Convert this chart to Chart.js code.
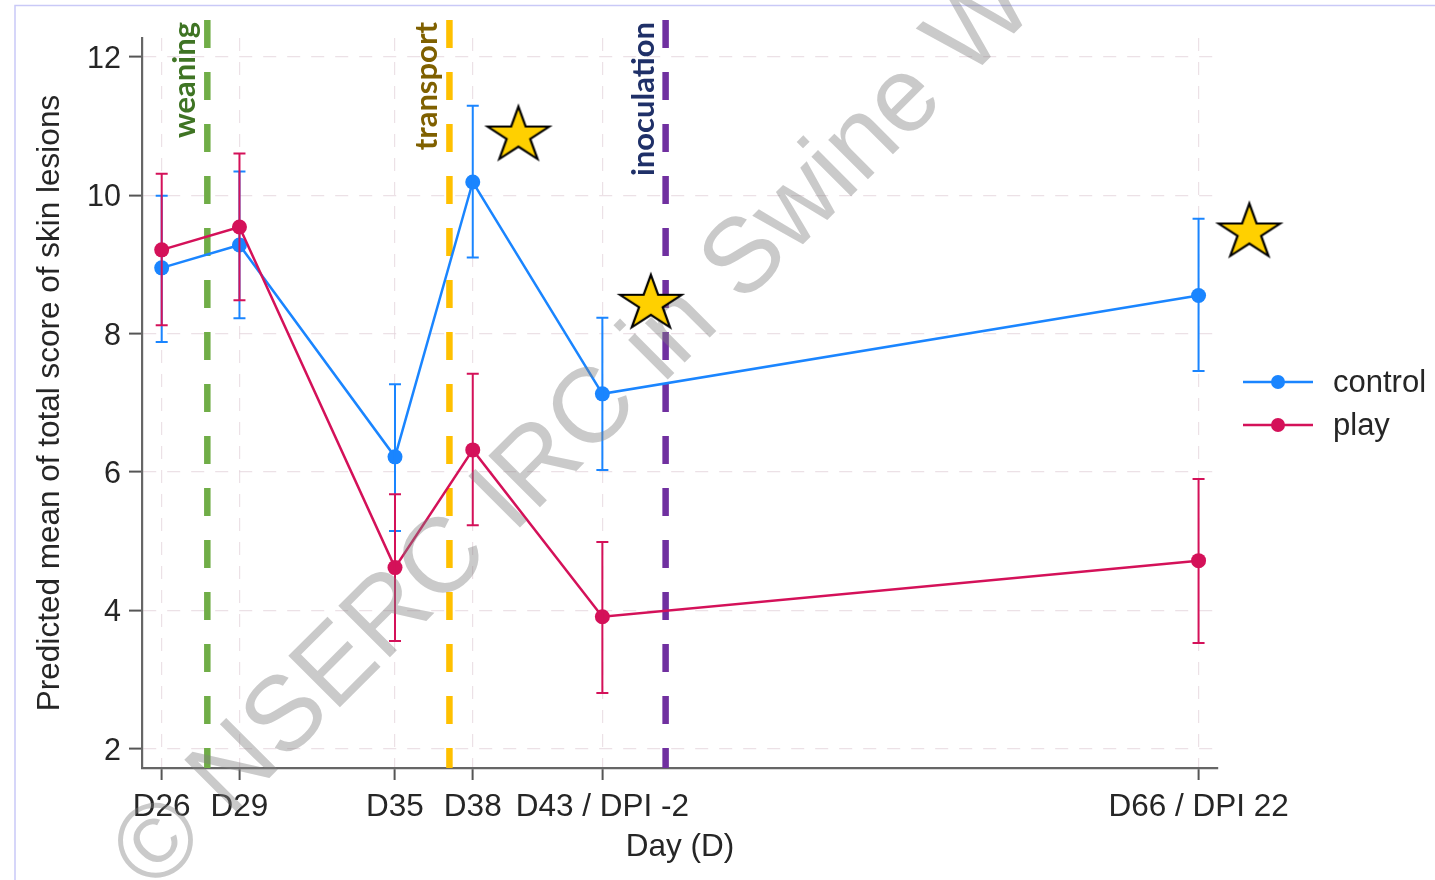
<!DOCTYPE html>
<html>
<head>
<meta charset="utf-8">
<script src="https://cdn.jsdelivr.net/npm/chart.js@4.4.0/dist/chart.umd.min.js"></script>
<style>
  html, body { margin: 0; padding: 0; background: #fff; }
  #wrap { position: relative; width: 1435px; height: 880px; }
</style>
</head>
<body>
<div id="wrap"><canvas id="lesionChart" width="1435" height="880"></canvas></div>
<script>
// x positions are days of age
const days = [26, 29, 35, 38, 43, 66];
const dayLabels = ['D26', 'D29', 'D35', 'D38', 'D43 / DPI -2', 'D66 / DPI 22'];

const controlMean = [8.95, 9.28, 6.22, 10.19, 7.13, 8.55];
const controlLow  = [7.88, 8.22, 5.15, 9.10, 6.03, 7.46];
const controlHigh = [9.99, 10.34, 7.27, 11.29, 8.23, 9.66];

const playMean = [9.21, 9.54, 4.62, 6.32, 3.91, 4.72];
const playLow  = [8.12, 8.48, 3.56, 5.23, 2.81, 3.53];
const playHigh = [10.31, 10.60, 5.68, 7.42, 4.99, 5.90];

const eventDays = [27.76, 37.1, 45.44];
const eventNames = ['weaning', 'transport', 'inoculation'];

const starDays = [39.76, 44.87, 67.96];
const starValues = [10.89, 8.46, 9.49];

const yTicks = [2, 4, 6, 8, 10, 12];

const X_MIN = 25.24, X_MAX = 66.75;
const Y_MIN = 1.725, Y_MAX = 12.27;
const EVENT_TOP = 12.53;

const BLUE = '#1A85FF';
const PINK = '#D41159';
const eventColors = ['#70AD47', '#FFC000', '#7030A0'];
const eventTextColors = ['#3F7424', '#7F6000', '#1F3068'];
const TEXT = '#262626';
const FONT = "'Liberation Sans', Arial, sans-serif";

function pts(ys) {
  return days.map((d, i) => ({ x: d, y: ys[i] }));
}

// star marker image
function makeStar() {
  const c = document.createElement('canvas');
  c.width = 74; c.height = 64;
  const g = c.getContext('2d');
  const R = 29, r = R * 0.382;
  g.translate(37, 34);
  g.scale(1.12, 1);
  g.beginPath();
  for (let i = 0; i < 10; i++) {
    const rad = i % 2 === 0 ? R : r;
    const a = -Math.PI / 2 + i * Math.PI / 5;
    const px = rad * Math.cos(a), py = rad * Math.sin(a);
    if (i === 0) g.moveTo(px, py); else g.lineTo(px, py);
  }
  g.closePath();
  g.fillStyle = '#FFD000';
  g.fill();
  g.lineWidth = 2;
  g.lineJoin = 'miter';
  g.strokeStyle = '#000';
  g.stroke();
  return c;
}
const starImg = makeStar();

const datasets = [];
eventDays.forEach((d, i) => {
  datasets.push({
    label: eventNames[i],
    data: [{ x: d, y: EVENT_TOP }, { x: d, y: Y_MIN }],
    borderColor: eventColors[i],
    borderWidth: 6.5,
    borderDash: [28, 24],
    pointRadius: 0,
    clip: false,
    order: 10
  });
});
datasets.push({
  label: 'control',
  data: pts(controlMean),
  errLow: controlLow,
  errHigh: controlHigh,
  borderColor: BLUE,
  backgroundColor: BLUE,
  borderWidth: 2.5,
  pointRadius: 7.5,
  pointBorderWidth: 0,
  pointBackgroundColor: BLUE,
  order: 2
});
datasets.push({
  label: 'play',
  data: pts(playMean),
  errLow: playLow,
  errHigh: playHigh,
  borderColor: PINK,
  backgroundColor: PINK,
  borderWidth: 2.5,
  pointRadius: 7.5,
  pointBorderWidth: 0,
  pointBackgroundColor: PINK,
  order: 1
});
datasets.push({
  label: 'significance',
  data: starDays.map((d, i) => ({ x: d, y: starValues[i] })),
  showLine: false,
  pointRadius: 0,
  clip: false,
  order: 0,
  isStar: true
});

const errorBars = {
  id: 'errorBars',
  afterDatasetDraw(chart, args) {
    const ds = chart.data.datasets[args.index];
    if (!ds.errLow) return;
    const ctx = chart.ctx;
    const xs = chart.scales.x, ys = chart.scales.y;
    ctx.save();
    ctx.strokeStyle = ds.borderColor;
    ctx.lineWidth = 2;
    ds.data.forEach((p, i) => {
      const x = xs.getPixelForValue(p.x);
      const y1 = ys.getPixelForValue(ds.errLow[i]);
      const y2 = ys.getPixelForValue(ds.errHigh[i]);
      ctx.beginPath();
      ctx.moveTo(x, y1); ctx.lineTo(x, y2);
      ctx.moveTo(x - 6, y1); ctx.lineTo(x + 6, y1);
      ctx.moveTo(x - 6, y2); ctx.lineTo(x + 6, y2);
      ctx.stroke();
    });
    ctx.restore();
  }
};

// watermark sits under the stars, stars are drawn after it
const watermarkAndStars = {
  id: 'watermarkAndStars',
  afterDatasetDraw(chart, args) {
    const ds = chart.data.datasets[args.index];
    if (!ds.isStar) return;
    const ctx = chart.ctx;
    ctx.save();
    ctx.translate(133, 873);
    ctx.rotate(-Math.PI / 4);
    ctx.font = '106px ' + FONT;
    ctx.fillStyle = 'rgba(128,128,128,0.42)';
    ctx.textBaseline = 'middle';
    ctx.textAlign = 'left';
    ctx.fillText('\u00A9 NSERC IRC in Swine Welfare', 0, 0);
    ctx.restore();

    const xs = chart.scales.x, ys = chart.scales.y;
    ds.data.forEach(p => {
      const x = xs.getPixelForValue(p.x);
      const y = ys.getPixelForValue(p.y);
      ctx.drawImage(starImg, x - starImg.width / 2, y - starImg.height / 2);
    });
  }
};

const decorations = {
  id: 'decorations',
  beforeDraw(chart) {
    const ctx = chart.ctx;
    ctx.save();
    ctx.fillStyle = '#fff';
    ctx.fillRect(0, 0, chart.width, chart.height);
    ctx.strokeStyle = '#C9C9F7';
    ctx.lineWidth = 1.5;
    ctx.beginPath();
    ctx.moveTo(15, 880); ctx.lineTo(15, 5.5); ctx.lineTo(1435, 5.5);
    ctx.stroke();
    ctx.restore();
  },
  afterDraw(chart) {
    const ctx = chart.ctx;
    const xs = chart.scales.x;
    // event labels
    ctx.save();
    ctx.font = "bold 31px Lato, 'Open Sans', sans-serif";
    ctx.textBaseline = 'middle';
    ctx.textAlign = 'right';
    eventDays.forEach((d, i) => {
      const x = xs.getPixelForValue(d) - 22;
      ctx.save();
      ctx.translate(x, 22);
      ctx.rotate(-Math.PI / 2);
      ctx.fillStyle = eventTextColors[i];
      ctx.fillText(eventNames[i], 0, 0);
      ctx.restore();
    });
    ctx.restore();

    // legend
    const items = [chart.data.datasets[3], chart.data.datasets[4]];
    ctx.save();
    ctx.font = '31px ' + FONT;
    ctx.textBaseline = 'middle';
    ctx.textAlign = 'left';
    items.forEach((ds, i) => {
      const y = 382 + i * 43;
      ctx.strokeStyle = ds.borderColor;
      ctx.lineWidth = 2.5;
      ctx.beginPath();
      ctx.moveTo(1243, y); ctx.lineTo(1313, y);
      ctx.stroke();
      ctx.fillStyle = ds.borderColor;
      ctx.beginPath();
      ctx.arc(1278, y, 7, 0, Math.PI * 2);
      ctx.fill();
      ctx.fillStyle = TEXT;
      ctx.fillText(ds.label, 1333, y + 1);
    });
    ctx.restore();
  }
};

new Chart(document.getElementById('lesionChart'), {
  type: 'line',
  data: { datasets: datasets },
  options: {
    responsive: false,
    animation: false,
    layout: { padding: { top: 38, right: 217, left: 0, bottom: 0 } },
    plugins: {
      legend: { display: false },
      tooltip: { enabled: false }
    },
    elements: { line: { tension: 0 } },
    scales: {
      x: {
        type: 'linear',
        min: X_MIN,
        max: X_MAX,
        afterBuildTicks: (s) => { s.ticks = days.map(v => ({ value: v })); },
        afterFit: (s) => { s.height = 112; },
        ticks: {
          autoSkip: false,
          maxRotation: 0,
          padding: 8,
          color: TEXT,
          font: { family: FONT, size: 31.5 },
          callback: (v) => dayLabels[days.indexOf(v)]
        },
        grid: {
          color: 'rgba(228,212,220,0.7)',
          lineWidth: 1.2,
          tickColor: '#555',
          tickWidth: 2,
          tickLength: 12
        },
        border: { color: '#666', width: 2.2, dash: [13, 11] },
        title: {
          display: true,
          text: 'Day (D)',
          color: TEXT,
          font: { family: FONT, size: 31.5 },
          padding: { top: 0, bottom: 14 }
        }
      },
      y: {
        min: Y_MIN,
        max: Y_MAX,
        afterBuildTicks: (s) => { s.ticks = yTicks.map(v => ({ value: v })); },
        afterFit: (s) => { s.width = 142; },
        ticks: {
          padding: 8,
          labelOffset: 2.5,
          color: TEXT,
          font: { family: FONT, size: 30.5 }
        },
        grid: {
          color: 'rgba(228,212,220,0.7)',
          lineWidth: 1.2,
          tickColor: '#555',
          tickWidth: 2,
          tickLength: 13
        },
        border: { color: '#666', width: 2.2, dash: [13, 11] },
        title: {
          display: true,
          text: 'Predicted mean of total score of skin lesions',
          color: TEXT,
          font: { family: FONT, size: 31.5 },
          padding: { top: 31, bottom: 0 }
        }
      }
    }
  },
  plugins: [errorBars, watermarkAndStars, decorations]
});
</script>
</body>
</html>
